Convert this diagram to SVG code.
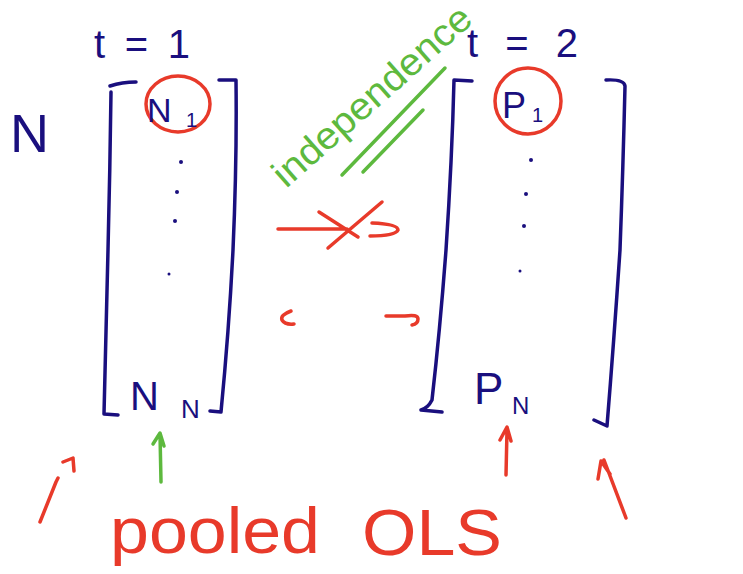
<svg xmlns="http://www.w3.org/2000/svg" width="743" height="574" viewBox="0 0 743 574">
<style>
.ink{fill:none;stroke-linecap:round;stroke-linejoin:round;stroke-width:3.5}
.navy{stroke:#1a0f7e}
.red{stroke:#e83a2a}
.green{stroke:#5db93e}
.tn{font-family:"Liberation Sans",Arial,sans-serif;fill:#1a0f7e}
.tr{font-family:"Liberation Sans",Arial,sans-serif;fill:#e83a2a}
.tg{font-family:"Liberation Sans",Arial,sans-serif;fill:#5db93e}
.dot{fill:#1a0f7e}
</style>
<rect width="743" height="574" fill="#ffffff"/>

<g id="label-N">
<text class="tn" x="10" y="152" font-size="54">N</text>
</g>

<g id="matrix-t1">
<text class="tn" x="94" y="58" font-size="40" textLength="96" lengthAdjust="spacing">t = 1</text>
<path class="ink navy" d="M110,86 Q122,82 136,82 M111,92 Q110,170 108,250 Q106,330 104,414 L118,415"/>
<path class="ink navy" d="M219,80 L236,80 Q237,160 233,250 Q229,330 221,412 L210,411"/>
<g id="node-N1">
<ellipse class="ink red" cx="178" cy="104" rx="32" ry="28"/>
<text class="tn" x="147" y="122" font-size="34">N</text>
<text class="tn" x="186" y="127" font-size="20">1</text>
</g>
<circle class="dot" cx="181" cy="162" r="2"/>
<circle class="dot" cx="177" cy="192" r="2"/>
<circle class="dot" cx="175" cy="221" r="2"/>
<circle class="dot" cx="169" cy="274" r="1.5"/>
<g id="node-NN">
<text class="tn" x="130" y="410" font-size="40">N</text>
<text class="tn" x="181" y="418" font-size="26">N</text>
</g>
</g>

<g id="matrix-t2">
<text class="tn" x="467" y="57" font-size="40" textLength="111" lengthAdjust="spacing">t = 2</text>
<path class="ink navy" d="M472,81 L454,80 Q452,160 446,250 Q440,330 432,400 Q428,408 421,410 L442,412"/>
<path class="ink navy" d="M606,80 Q624,79 625,86 Q623,170 620,250 Q614,340 607,426 L594,420"/>
<g id="node-P1">
<ellipse class="ink red" cx="528" cy="101" rx="33" ry="33"/>
<text class="tn" x="502" y="118" font-size="36">P</text>
<text class="tn" x="532" y="122" font-size="20">1</text>
</g>
<circle class="dot" cx="531" cy="160" r="2"/>
<circle class="dot" cx="526" cy="194" r="2"/>
<circle class="dot" cx="524" cy="226" r="2"/>
<circle class="dot" cx="520" cy="271" r="1.5"/>
<g id="node-PN">
<text class="tn" x="474" y="404" font-size="44">P</text>
<text class="tn" x="512" y="414" font-size="24">N</text>
</g>
</g>

<g id="independence">
<text class="tg" x="286" y="189" font-size="38" textLength="252" lengthAdjust="spacingAndGlyphs" transform="rotate(-41.5 286 189)">independence</text>
</g>

<g id="pooled-ols">
<text class="tr" x="110" y="553" font-size="64" textLength="210" lengthAdjust="spacingAndGlyphs">pooled</text>
<text class="tr" x="362" y="555" font-size="64" textLength="140" lengthAdjust="spacingAndGlyphs">OLS</text>
</g>

<g id="connectors">
<path class="ink green" d="M342,175 L445,68 M363,172 L423,110"/>
<path class="ink red" d="M278,229 L347,229 M382,202 L328,248 M319,212 L358,237 M372,223 Q398,224 398,230 Q395,236 370,236"/>
<path class="ink red" d="M291,311 Q280,315 282,320 Q285,325 294,324"/>
<path class="ink red" d="M386,316 L405,316 Q418,314 418,319 Q418,324 412,325"/>
<path class="ink red" d="M40,522 L56,482 L58,478 M63,462 L73,458 L74,471"/>
<path class="ink green" d="M161,482 L160,434 M153,444 L160,433 L164,446"/>
<path class="ink red" d="M506,475 L507,430 M500,440 L507,427 L511,441"/>
<path class="ink red" d="M626,518 L604,460 M598,479 L601,461 L610,474"/>
</g>
</svg>
